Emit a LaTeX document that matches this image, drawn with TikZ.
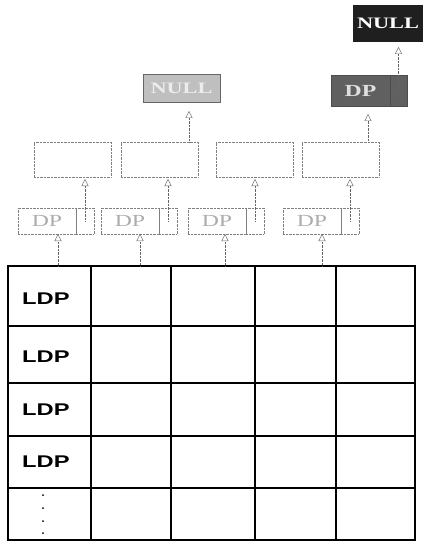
\documentclass[tikz,border=0pt]{standalone}
\usepackage{fontspec}
\setmainfont{Liberation Serif}
\setsansfont{Liberation Sans}
\usepackage{graphicx}
\usetikzlibrary{positioning,arrows.meta}
\newcommand{\wide}[1]{\scalebox{1.4}[1]{#1}}

\begin{document}
\begin{tikzpicture}[x=1bp,y=-1bp,
  cell/.style={draw=gray,densely dotted,inner sep=0pt,outer sep=0pt,minimum height=26bp},
  dpbox/.style={cell,minimum width=58bp,text=gray!65,font=\fontsize{17}{17}\selectfont},
  ptrbox/.style={cell,minimum width=18bp},
  infobox/.style={cell,minimum width=77bp,minimum height=35bp},
  nullbox/.style={draw=gray!80!black,fill=gray!50,text=gray!15,inner sep=0pt,outer sep=0pt,
    minimum width=77bp,minimum height=28bp,font=\bfseries\fontsize{16}{16}\selectfont},
  darkbox/.style={draw=gray!60!black,fill=gray!75!black,text=gray!25,inner sep=0pt,outer sep=0pt,
    minimum height=31bp,font=\bfseries\fontsize{17}{17}\selectfont},
  topnull/.style={fill=black!88,text=white,inner sep=0pt,outer sep=0pt,
    minimum width=70bp,minimum height=37bp,font=\bfseries\fontsize{16}{16}\selectfont},
  link/.style={draw=gray!80!black,densely dotted,-{Triangle[open,length=7bp,width=7bp]}},
  ldp/.style={anchor=west,inner sep=0pt,font=\sffamily\bfseries\fontsize{17}{17}\selectfont},
  grid/.style={line width=1.5bp}]
  \useasboundingbox (0,0) rectangle (423,541);
  % table of LDP rows
  \draw[grid] (8,266) rectangle (415,540);
  \foreach \x in {91,171,255,336} \draw[grid] (\x,266) -- (\x,540);
  \foreach \y in {326,383,436,488} \draw[grid] (8,\y) -- (415,\y);
  \foreach \y [count=\i] in {299,357,410,462}
    \node[ldp] (ldp\i) at (22,\y) {\wide{LDP}};
  \foreach \y in {495,508,521,533} \fill (43,\y) circle (1bp); % vertical dots
  % DP boxes above the table
  \foreach \x/\g [count=\i] in {18/58,101/140,188/225,283/322}{
    \node[dpbox,anchor=north west] (dp\i) at (\x,208) {\wide{DP}};
    \node[ptrbox,right=0pt of dp\i] (p\i) {};
    \coordinate (g\i) at (\g,266);
    \draw[link] (g\i) -- (g\i |- dp\i.south);
  }
  % info boxes
  \foreach \x [count=\i] in {34,121,216,302}{
    \node[infobox,anchor=north west] (m\i) at (\x,142) {};
    \draw[link,shorten >=2bp] (p\i.center) -- (p\i.center |- m\i.south);
  }
  % top level
  \node[nullbox,anchor=north west] (null1) at (143,74) {\wide{NULL}};
  \node[darkbox,minimum width=59bp,anchor=north west] (dpd) at (331,75) {\wide{DP}};
  \node[darkbox,minimum width=17bp,right=0pt of dpd] (pd) {};
  \node[topnull,anchor=north west] (null2) at (353,5) {\wide{NULL}};
  \coordinate (a2) at (189,142);
  \coordinate (a4) at (368,142);
  \draw[link,shorten >=9bp] (a2) -- (a2 |- null1.south);
  \draw[link,shorten >=8bp] (a4) -- (a4 |- dpd.south);
  \draw[link,shorten >=5bp] (pd.center) -- (pd.center |- null2.south);
\end{tikzpicture}
\end{document}
